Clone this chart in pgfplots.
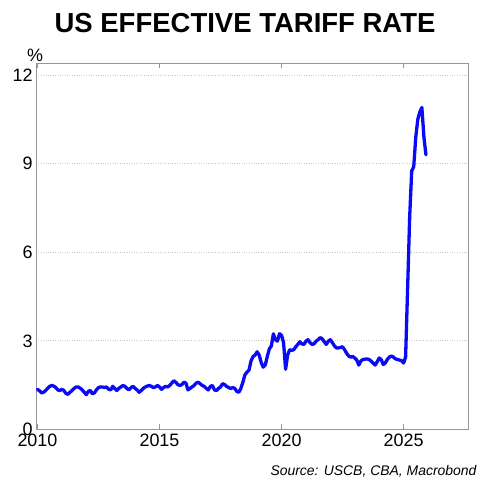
\documentclass[border=0pt]{standalone}
\usepackage{pgfplots}
\pgfplotsset{compat=1.18}
\usepackage{pgfplotstable}
\usepackage{fontspec}
\setmainfont{Liberation Sans}
\definecolor{lineblue}{RGB}{10,10,245}
\definecolor{axisgray}{RGB}{150,150,150}
\definecolor{gridgray}{RGB}{200,200,200}
\pgfplotstableread{
v
1.36
1.31
1.24
1.26
1.32
1.39
1.46
1.49
1.47
1.42
1.34
1.32
1.36
1.32
1.22
1.19
1.26
1.32
1.39
1.44
1.44
1.40
1.34
1.26
1.18
1.29
1.32
1.21
1.24
1.34
1.42
1.44
1.44
1.42
1.44
1.36
1.34
1.46
1.39
1.32
1.39
1.44
1.49
1.46
1.39
1.34
1.42
1.46
1.39
1.34
1.26
1.32
1.39
1.44
1.47
1.49
1.46
1.42
1.44
1.49
1.44
1.36
1.42
1.46
1.44
1.49
1.57
1.65
1.60
1.52
1.49
1.52
1.60
1.57
1.34
1.39
1.44
1.49
1.57
1.60
1.55
1.49
1.46
1.39
1.34
1.46
1.49
1.34
1.32
1.39
1.44
1.55
1.52
1.46
1.42
1.39
1.42
1.39
1.29
1.26
1.39
1.60
1.85
1.94
2.01
2.32
2.47
2.52
2.63
2.52
2.27
2.11
2.18
2.47
2.73
2.83
3.24
3.04
2.99
3.24
3.19
2.94
2.04
2.52
2.70
2.68
2.70
2.80
2.88
2.97
2.90
2.88
2.99
3.04
2.94
2.88
2.90
2.99
3.04
3.11
3.07
2.97
2.88
2.99
3.04
2.94
2.83
2.76
2.76
2.78
2.80
2.70
2.58
2.49
2.45
2.47
2.42
2.35
2.18
2.32
2.37
2.38
2.39
2.37
2.32
2.25
2.18
2.29
2.42
2.37
2.20
2.25
2.37
2.45
2.49
2.45
2.39
2.37
2.35
2.33
2.25
2.45
4.80
7.20
8.75
8.90
9.90
10.50
10.75
10.90
9.90
9.30
}\tariff
\begin{document}
\begin{tikzpicture}[x=1bp,y=1bp]
\path[use as bounding box] (0,0) rectangle (493,489);
\begin{axis}[
  at={(36bp,59.5bp)}, anchor=south west,
  width=432bp, height=366bp, scale only axis,
  xmin=2009.94, xmax=2027.64, ymin=0, ymax=12.39,
  xtick={2010,2015,2020,2025}, ytick={0,3,6,9,12},
  /pgf/number format/assume math mode=true,
  /pgf/number format/1000 sep={},
  tick label style={font=\fontsize{18}{20}\selectfont},
  xticklabel style={yshift=-1bp},
  axis line style={draw=axisgray, line width=0.9bp},
  xtick style={draw=axisgray, line width=0.9bp},
  ytick style={draw=none},
  tick align=inside, major tick length=5bp,
  ymajorgrids, grid style={dotted, gridgray, line width=0.8bp},
  clip=false,
]
\addplot[lineblue, line width=3.3bp, line join=round, line cap=round]
  table[x expr={2010+\coordindex/12}, y=v] {\tariff};
\end{axis}
\node[anchor=base, font=\fontsize{27.6}{30}\selectfont\bfseries] at (245,456) {US EFFECTIVE TARIFF RATE};
\node[anchor=base, font=\fontsize{18}{20}\selectfont] at (35,427) {\%};
\node[anchor=base east, font=\fontsize{14}{16}\selectfont\itshape] at (480,13) {Source: USCB, CBA, Macrobond};
\end{tikzpicture}
\end{document}
